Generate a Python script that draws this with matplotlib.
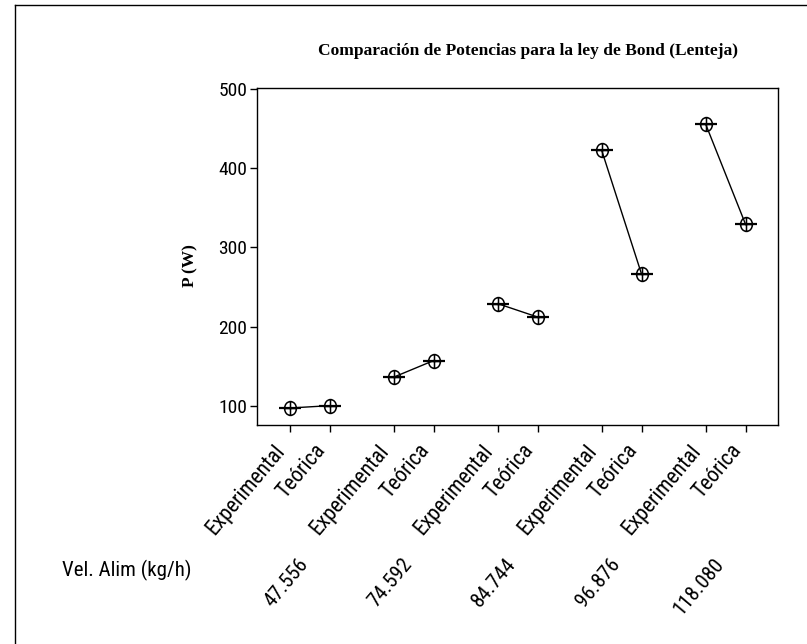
# Comparacion de potencias - ley de Bond (lenteja)
import matplotlib
matplotlib.use('Agg')
import matplotlib.pyplot as plt
import matplotlib.transforms as mtransforms
from matplotlib.path import Path
from matplotlib.lines import Line2D
import numpy as np

metodos = ['Experimental', 'Teórica']
vel_alim = ['47.556', '74.592', '84.744', '96.876', '118.080']
p_experimental = [97, 136, 229, 423, 456]
p_teorica = [100, 157, 212, 266, 329]

narrow = ['Roboto Condensed', 'Liberation Sans Narrow', 'Roboto', 'DejaVu Sans']
serif = ['Liberation Serif', 'DejaVu Serif']

# marcador: elipse con cruz
circ = Path.unit_circle()
elipse = Path(circ.vertices * np.array([0.85, 1.0]), circ.codes)
cruz = Path([(0, -1), (0, 1), (-0.85, 0), (0.85, 0)],
            [Path.MOVETO, Path.LINETO, Path.MOVETO, Path.LINETO])
marca = Path.make_compound_path(elipse, cruz)

fig = plt.figure(figsize=(8.07, 6.44), dpi=100)
ax = fig.add_axes([0.3185, 0.34, 0.6456, 0.5233])

paso = 2.6
pos = []
etiquetas = []
for g in range(len(vel_alim)):
    x0 = g * paso
    x1 = g * paso + 1
    ys = [p_experimental[g], p_teorica[g]]
    ax.plot([x0, x1], ys, color='black', lw=1.0, zorder=2)
    ax.plot([x0, x1], ys, ls='none', marker='_', ms=16.5, mew=1.6,
            color='black', zorder=3)
    ax.plot([x0, x1], ys, ls='none', marker=marca, ms=10, mew=1.1,
            mfc='none', mec='black', zorder=4)
    pos += [x0, x1]
    etiquetas += metodos

ax.set_xlim(-0.815, 4 * paso + 1 + 0.81)
ax.set_ylim(75.5, 501.5)
ax.set_yticks([100, 200, 300, 400, 500])
ax.set_xticks(pos)
ax.set_xticklabels(etiquetas, rotation=50, ha='right', family=narrow, fontsize=15.5)
for t in ax.get_yticklabels():
    t.set_family(narrow)
    t.set_fontsize(14)
ax.tick_params(axis='both', direction='out', length=5, width=1, color='black')
ax.tick_params(axis='x', pad=6)
ax.tick_params(axis='y', pad=2)
for s in ax.spines.values():
    s.set_linewidth(1.0)

ax.text(-0.128, 0.472, 'P (W)', transform=ax.transAxes, rotation=90,
        ha='center', va='center', family=serif, fontweight='bold', fontsize=12.5)

fig.text(0.654, 0.921, 'Comparación de Potencias para la ley de Bond (Lenteja)',
         ha='center', va='center', family=serif, fontweight='bold', fontsize=12.5)

# segunda fila de etiquetas (velocidad de alimentacion)
trans = mtransforms.blended_transform_factory(ax.transData, fig.transFigure)
for g, v in enumerate(vel_alim):
    ax.text(g * paso + 0.55, 1 - 555 / 644, v, transform=trans, rotation=50,
            ha='right', va='top', family=narrow, fontsize=15)
fig.text(62 / 807, 1 - 570 / 644, 'Vel. Alim (kg/h)', ha='left', va='center',
         family=narrow, fontsize=15)

# marco de la figura
xb = 15 / 807
yb = 1 - 5 / 644
fig.add_artist(Line2D([xb, xb], [0, yb], transform=fig.transFigure, color='black', lw=1.0))
fig.add_artist(Line2D([xb, 1], [yb, yb], transform=fig.transFigure, color='black', lw=1.0))

fig.savefig('out.png', dpi=100)
